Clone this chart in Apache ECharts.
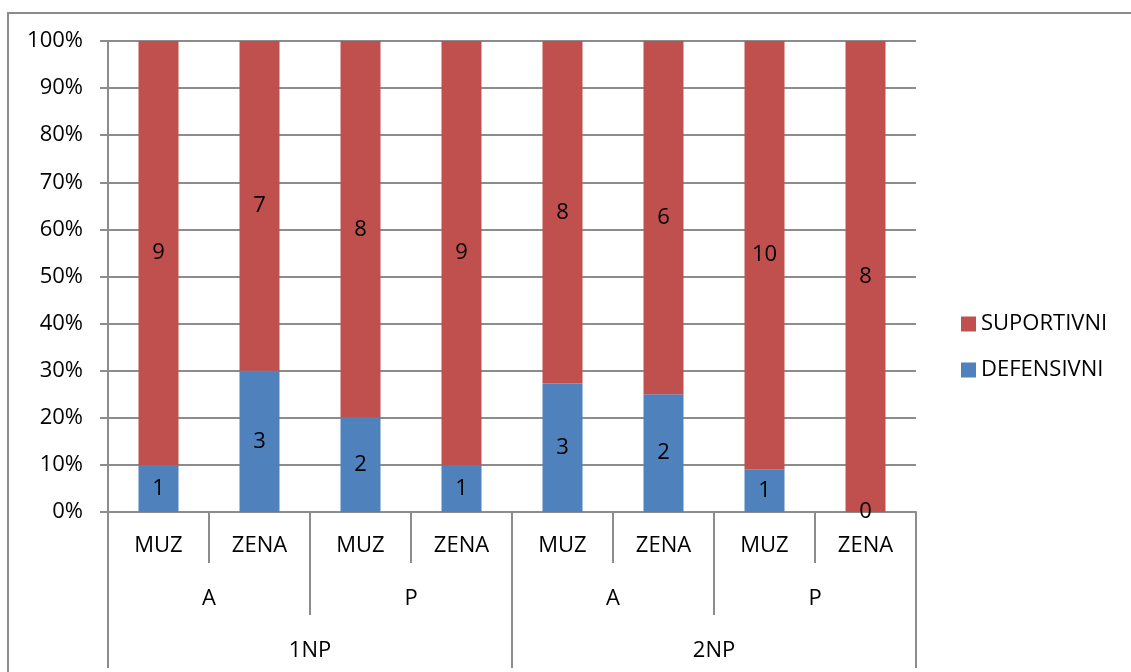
<!DOCTYPE html>
<html>
<head>
<meta charset="utf-8">
<script src="https://cdn.jsdelivr.net/npm/echarts@6/dist/echarts.min.js"></script>
<style>
  html, body { margin: 0; padding: 0; background: #fff; }
  #chart { width: 1131px; height: 672px; }
  #frame {
    position: absolute; left: 7px; top: 12px; width: 1140px; height: 700px;
    border: 2px solid #8c8c8c; box-sizing: border-box; pointer-events: none;
  }
</style>
</head>
<body>
<div id="chart"></div>
<div id="frame"></div>
<script>
  const genders = ["MUZ", "ZENA", "MUZ", "ZENA", "MUZ", "ZENA", "MUZ", "ZENA"];
  const groups = ["A", "P", "A", "P"];
  const levels = ["1NP", "2NP"];
  const defensivni = [1, 3, 2, 1, 3, 2, 1, 0];
  const suportivni = [9, 7, 8, 9, 8, 6, 10, 8];
  const yTicks = [0, 10, 20, 30, 40, 50, 60, 70, 80, 90, 100];

  const font = "'Open Sans', 'Liberation Sans', sans-serif";
  const fs = 22;
  const gray = "#8c8c8c";

  // percent of each bar from the counts
  const pct = (arr, i) => {
    const total = defensivni[i] + suportivni[i];
    return total ? (arr[i] / total) * 100 : 0;
  };
  const defPct = defensivni.map((v, i) => pct(defensivni, i));
  const supPct = suportivni.map((v, i) => pct(suportivni, i));

  const chart = echarts.init(document.getElementById("chart"));

  const levelAxis = (data, tickLen, margin) => ({
    type: "category",
    position: "bottom",
    data: data,
    boundaryGap: true,
    axisLine: { show: false },
    axisTick: {
      show: true,
      alignWithLabel: false,
      length: tickLen,
      lineStyle: { color: gray, width: 2 },
    },
    axisLabel: {
      margin: margin,
      color: "#000",
      fontSize: fs,
      fontFamily: font,
      interval: 0,
    },
    splitLine: { show: false },
  });

  const option = {
    animation: false,
    grid: { left: 108, top: 41, width: 808, height: 471, containLabel: false },
    legend: {
      orient: "vertical",
      left: 956,
      top: 308,
      itemWidth: 15,
      itemHeight: 15,
      itemGap: 24,
      icon: "rect",
      data: ["SUPORTIVNI", "DEFENSIVNI"],
      textStyle: { fontSize: fs, fontFamily: font, color: "#000" },
    },
    xAxis: [
      Object.assign(levelAxis(genders, 51, 23), {
        axisLine: { show: true, lineStyle: { color: gray, width: 2 } },
      }),
      levelAxis(groups, 103, 76),
      levelAxis(levels, 156, 128),
    ],
    yAxis: {
      type: "value",
      min: 0,
      max: 100,
      interval: 10,
      axisLine: { show: true, lineStyle: { color: gray, width: 2 } },
      axisTick: { show: true, length: 8, lineStyle: { color: gray, width: 2 } },
      axisLabel: {
        margin: 25,
        color: "#000",
        fontSize: fs,
        fontFamily: font,
        formatter: (v) => (yTicks.includes(v) ? v + "%" : ""),
      },
      splitLine: { show: true, lineStyle: { color: gray, width: 2 } },
    },
    series: [
      {
        name: "DEFENSIVNI",
        type: "bar",
        stack: "total",
        barWidth: 40,
        itemStyle: { color: "#4f81bd" },
        label: {
          show: true,
          position: "inside",
          color: "#000",
          fontSize: fs,
          fontFamily: font,
          formatter: (p) => String(defensivni[p.dataIndex]),
        },
        data: defPct,
      },
      {
        name: "SUPORTIVNI",
        type: "bar",
        stack: "total",
        barWidth: 40,
        itemStyle: { color: "#c0504d" },
        label: {
          show: true,
          position: "inside",
          color: "#000",
          fontSize: fs,
          fontFamily: font,
          formatter: (p) => String(suportivni[p.dataIndex]),
        },
        data: supPct,
      },
    ],
  };

  chart.setOption(option);
</script>
</body>
</html>
